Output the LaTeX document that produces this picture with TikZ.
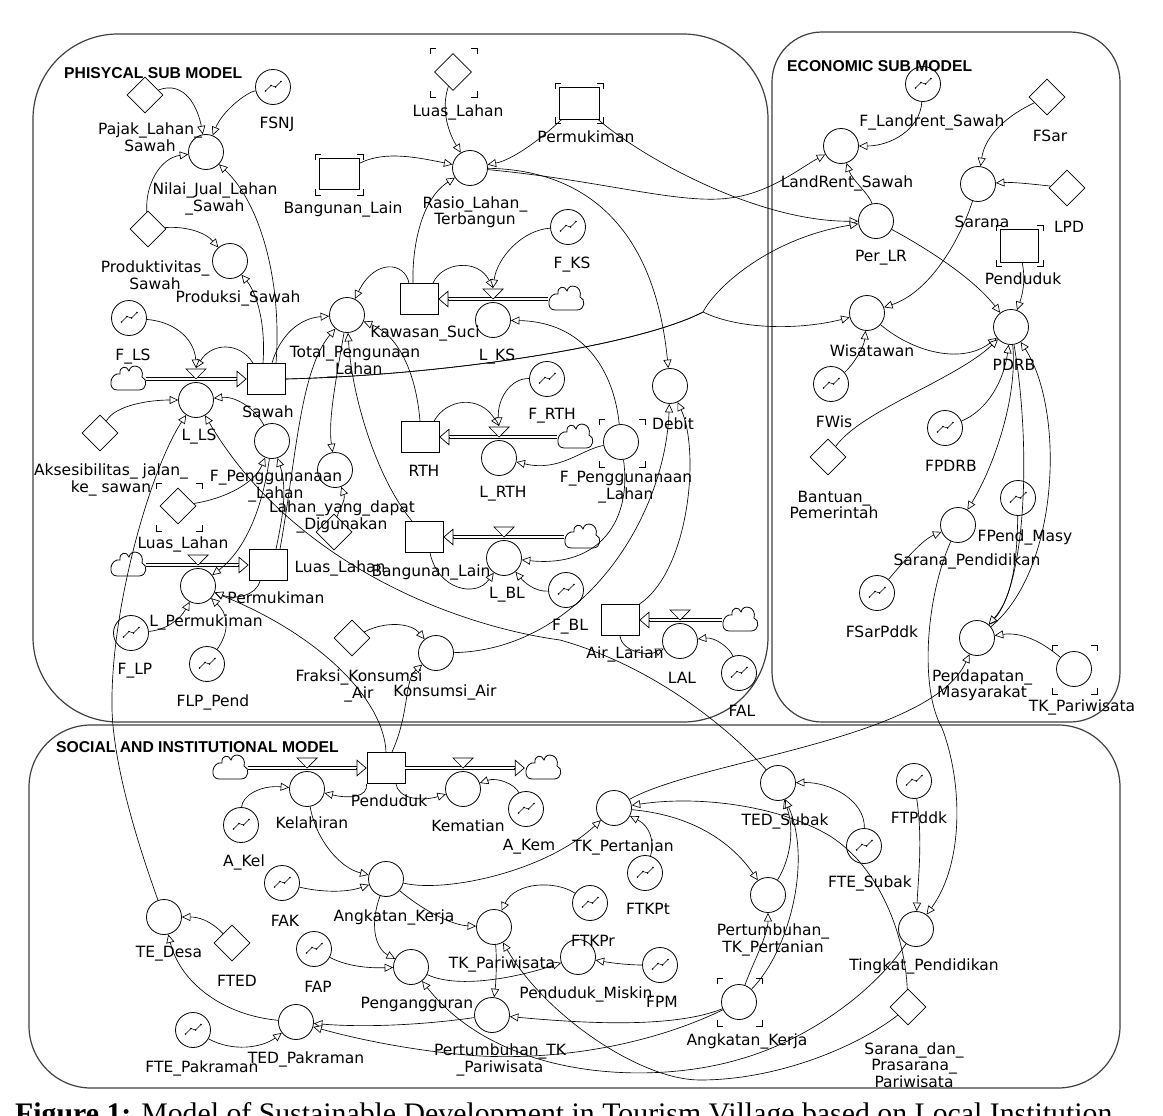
\documentclass[tikz,border=0pt]{standalone}
\usepackage{fontspec}
\usetikzlibrary{shapes.geometric,arrows.meta,calc}
\newfontfamily\labfont{DejaVu Sans}
\newfontfamily\titfont{Liberation Sans}
\newfontfamily\capfont{Liberation Serif}
\newcommand\ghostmark[4]{\draw[ghostline] (#1,{#2+6}) -- (#1,#2) -- ({#1+6},#2) ({#3-6},#2) -- (#3,#2) -- (#3,{#2+6}) (#3,{#4-6}) -- (#3,#4) -- ({#3-6},#4) ({#1+6},#4) -- (#1,#4) -- (#1,{#4-6});}
\newcommand\valvemark[2]{\draw[valveline] ({#1-10},{#2-10}) -- ({#1+10},{#2-10}) -- (#1,#2) -- cycle;}
\tikzset{
 every node/.style={inner sep=0pt},
 auxn/.style={circle, draw, line width=0.8pt, minimum size=35pt},
 graphc/.style={auxn, path picture={\draw[line width=0.55pt, shift={(path picture bounding box.center)}] (-7.5,4) -- (-2,-1.5) -- (2.5,0) -- (8,-5.5); \fill[shift={(path picture bounding box.center)}] (-7.5,4) circle (0.9pt) (-2,-1.5) circle (0.9pt) (2.5,0) circle (0.9pt) (8,-5.5) circle (0.9pt);}},
 cnst/.style={diamond, aspect=1, draw, line width=0.8pt, minimum size=36pt},
 stockn/.style={rectangle, draw, line width=0.8pt, minimum width=38pt, minimum height=31pt},
 cloudn/.style={minimum width=36pt, minimum height=26pt},
 lab/.style={font=\labfont\fontsize{15.5}{16.5}\selectfont, align=center},
 ttl/.style={font=\titfont\bfseries\fontsize{15.7}{18}\selectfont, anchor=west},
 lnk/.style={line width=0.65pt, -{Triangle[length=8.5pt, width=8pt, fill=white]}},
 pipen/.style={double, double distance=2.6pt, line width=0.7pt},
 pipetip/.style={line width=0.7pt, -{Triangle[length=10pt, width=17pt, fill=white]}},
 valveline/.style={line width=0.7pt, fill=white},
 ghostline/.style={line width=0.8pt},
 framen/.style={line width=1.2pt, black!75},
 pics/cloudpic/.style={code={\draw[line width=0.8pt, fill=white] (-11,11) -- (11,11) .. controls (19,11) and (20,0) .. (14,-2) .. controls (17,-13) and (3,-17) .. (1,-8) .. controls (-1,-14) and (-9,-13) .. (-8,-5) .. controls (-18,-7) and (-21,11) .. (-11,11) -- cycle;}},
}
\begin{document}
\begin{tikzpicture}[x=1pt,y=-1pt]
\useasboundingbox[fill=white] (0,0) rectangle (1163,1116);
% frames
\draw[framen, rounded corners=85pt] (33,34) rectangle (768,722);
\draw[framen, rounded corners=50pt] (772,32) rectangle (1120,722);
\draw[framen, rounded corners=62pt] (29,725) rectangle (1120,1088);
\node[ttl] (tt1) at (64,73) {PHISYCAL SUB MODEL};
\node[ttl] (tt2) at (787,66) {ECONOMIC SUB MODEL};
\node[ttl] (tt3) at (56,747) {SOCIAL AND INSTITUTIONAL MODEL};
% ---------- physical nodes
\node[cnst] (pajak) at (145,95) {};
\node[graphc] (fsnj) at (273,87) {};
\node[auxn] (nilai) at (206,152) {};
\node[cnst] (prodv) at (148,229) {};
\node[auxn] (produksi) at (230,261) {};
\node[stockn, minimum width=40pt] (blg) at (339,174) {};
\ghostmark{315}{154}{363}{195}
\node[cnst, minimum size=37pt] (llt) at (453,72) {};
\ghostmark{430}{48}{477}{97}
\node[stockn, minimum width=40pt, minimum height=32pt] (permg) at (579,103) {};
\ghostmark{555}{83}{603}{123}
\node[auxn] (rasio) at (470,168) {};
\node[graphc] (fks) at (568,227) {};
\node[cloudn] (cks) at (566,299) {}; \pic at (566,299) {cloudpic};
\node[stockn] (ks) at (419,299) {};
\node[auxn] (lks) at (493,320) {};
\node[auxn] (total) at (347,315) {};
\node[graphc] (fls) at (129,318) {};
\node[cloudn] (cls) at (128,379) {}; \pic at (128,379) {cloudpic};
\node[stockn] (sawah) at (266,379) {};
\node[auxn] (lls) at (196,400) {};
\node[cnst] (akses) at (100,433) {};
\node[auxn] (fpl) at (272,441) {};
\node[cnst] (llg) at (178,506) {};
\ghostmark{156}{483}{202}{531}
\node[auxn] (lahan) at (335,470) {};
\node[cnst] (lld) at (334,532) {};
\node[cloudn] (clp) at (128,565) {}; \pic at (128,565) {cloudpic};
\node[stockn] (perm) at (268,565) {};
\node[auxn] (lp) at (198,586) {};
\node[graphc] (flp) at (131,633) {};
\node[graphc] (flpp) at (207,664) {};
\node[cnst] (fraksi) at (352,638) {};
\node[auxn] (kons) at (436,653) {};
\node[stockn] (rth) at (420,437) {};
\node[graphc] (frth) at (547,379) {};
\node[cloudn] (crth) at (575,437) {}; \pic at (575,437) {cloudpic};
\node[auxn] (lrth) at (499,458) {};
\node[auxn] (fpg) at (621,442) {};
\ghostmark{599}{419}{645}{467}
\node[auxn] (debit) at (670,386) {};
\node[stockn] (bl) at (424,537) {};
\node[cloudn] (cbl) at (582,537) {}; \pic at (582,537) {cloudpic};
\node[auxn] (lbl) at (504,558) {};
\node[graphc] (fbl) at (566,590) {};
\node[stockn] (al) at (620,620) {};
\node[cloudn] (cal) at (740,620) {}; \pic at (740,620) {cloudpic};
\node[auxn] (lal) at (680,641) {};
\node[graphc] (fal) at (739,673) {};
% ---------- economic nodes
\node[graphc] (flr) at (923,84) {};
\node[cnst] (fsar) at (1047,97) {};
\node[auxn] (landrent) at (841,146) {};
\node[auxn] (sarana) at (978,184) {};
\node[cnst] (lpd) at (1067,188) {};
\node[auxn] (perlr) at (876,221) {};
\node[stockn, minimum height=33pt] (pendg) at (1019,246) {};
\ghostmark{996}{225}{1043}{266}
\node[auxn] (wis) at (867,313) {};
\node[auxn] (pdrb) at (1011,327) {};
\node[graphc] (fwis) at (831,384) {};
\node[cnst] (bantuan) at (828,457) {};
\node[graphc] (fpdrb) at (945,428) {};
\node[graphc] (fpendm) at (1018,498) {};
\node[auxn] (sarpend) at (958,525) {};
\node[graphc] (fsarp) at (877,593) {};
\node[auxn] (pendap) at (977,638) {};
\node[auxn] (tkpg) at (1074,669) {};
\ghostmark{1052}{645}{1097}{694}
% ---------- social nodes
\node[cloudn] (ckel) at (230,768) {}; \pic at (230,768) {cloudpic};
\node[auxn] (kel) at (307,789) {};
\node[stockn] (pend) at (386,768) {};
\node[auxn] (kem) at (463,789) {};
\node[cloudn] (ckem) at (543,768) {}; \pic at (543,768) {cloudpic};
\node[graphc] (akem) at (526,809) {};
\node[graphc] (akel) at (241,825) {};
\node[graphc] (fak) at (282,883) {};
\node[auxn] (ak) at (386,879) {};
\node[auxn] (tedesa) at (164,917) {};
\node[cnst] (fted) at (232,943) {};
\node[graphc] (fap) at (314,949) {};
\node[auxn] (peng) at (411,967) {};
\node[graphc] (ftep) at (193,1030) {};
\node[auxn] (tedpak) at (296,1022) {};
\node[auxn] (tkpt) at (614,808) {};
\node[graphc] (ftkpt) at (645,873) {};
\node[auxn] (tkpar) at (494,927) {};
\node[graphc] (ftkpr) at (590,903) {};
\node[auxn] (pmiskin) at (578,957) {};
\node[graphc] (fpm) at (660,965) {};
\node[auxn] (ptkpar) at (492,1015) {};
\node[auxn] (teds) at (778,783) {};
\node[graphc] (ftes) at (864,846) {};
\node[graphc] (ftpd) at (914,781) {};
\node[auxn] (ptkpt) at (768,895) {};
\node[auxn] (akg) at (739,1002) {};
\ghostmark{717}{978}{762}{1026}
\node[auxn] (tp) at (916,929) {};
\node[cnst] (sdp) at (908,1007) {};
% ---------- pipes
\draw[pipen] (cls) -- ([xshift=-10pt]sawah.west);
\draw[pipetip] ([xshift=-10.5pt]sawah.west) -- (sawah.west);
\draw[pipen] (clp) -- ([xshift=-10pt]perm.west);
\draw[pipetip] ([xshift=-10.5pt]perm.west) -- (perm.west);
\draw[pipen] (cks) -- ([xshift=10pt]ks.east);
\draw[pipetip] ([xshift=10.5pt]ks.east) -- (ks.east);
\draw[pipen] (crth) -- ([xshift=10pt]rth.east);
\draw[pipetip] ([xshift=10.5pt]rth.east) -- (rth.east);
\draw[pipen] (cbl) -- ([xshift=10pt]bl.east);
\draw[pipetip] ([xshift=10.5pt]bl.east) -- (bl.east);
\draw[pipen] (cal) -- ([xshift=10pt]al.east);
\draw[pipetip] ([xshift=10.5pt]al.east) -- (al.east);
\draw[pipen] (ckel) -- ([xshift=-10pt]pend.west);
\draw[pipetip] ([xshift=-10.5pt]pend.west) -- (pend.west);
\draw[pipen] (pend) -- ([xshift=-10pt]ckem.west);
\draw[pipetip] ([xshift=-10.5pt]ckem.west) -- (ckem.west);
\valvemark{196}{379}
\valvemark{198}{565}
\valvemark{493}{299}
\valvemark{499}{437}
\valvemark{504}{537}
\valvemark{680}{620}
\valvemark{307}{768}
\valvemark{463}{768}
\coordinate (vls) at (196,368);
\coordinate (vlks) at (493,288);
\coordinate (vlrth) at (499,426);
% ---------- physical links
\draw[lnk] (pajak) .. controls (185,80) and (198,108) .. (nilai);
\draw[lnk] (fsnj) .. controls (245,93) and (222,112) .. (nilai);
\draw[lnk] (prodv) .. controls (145,185) and (160,158) .. (nilai);
\draw[lnk] (prodv) .. controls (185,226) and (205,232) .. (produksi);
\draw[lnk] ([xshift=-3pt]sawah.north) .. controls (266,322) and (256,292) .. (produksi);
\draw[lnk] ([xshift=10pt]sawah.north) .. controls (282,285) and (262,205) .. (nilai);
\draw[lnk] ([xshift=6pt]sawah.north) .. controls (280,335) and (300,318) .. (total);
\draw[lnk] ([xshift=-13pt]sawah.north) .. controls (240,342) and (212,342) .. (vls);
\draw[lnk] (fls) .. controls (178,322) and (195,342) .. (vls);
\draw[lnk] (akses) .. controls (115,405) and (150,400) .. (lls);
\draw[lnk] (fpl) .. controls (255,408) and (235,396) .. (lls);
\draw[lnk] (tedesa) .. controls (140,850) and (114,770) .. (112,710) .. controls (110,610) and (150,470) .. (lls);
\draw[lnk] (teds) .. controls (735,735) and (660,668) .. (560,640) .. controls (450,625) and (290,560) .. (lls);
\draw[lnk] (llg) .. controls (228,498) and (255,482) .. (fpl);
\draw[lnk] (fpl) .. controls (262,510) and (245,550) .. (lp);
\draw[lnk] ([xshift=8pt]perm.north) .. controls (282,520) and (288,490) .. (fpl);
\draw[lnk] ([xshift=12pt]perm.north) .. controls (296,460) and (300,370) .. (total);
\draw[lnk] ([xshift=-10pt]ks.north) .. controls (405,262) and (375,258) .. (total);
\draw[lnk] (rth.north) .. controls (416,372) and (398,335) .. (total);
\draw[lnk] ([xshift=-12pt]bl.north) .. controls (378,480) and (352,400) .. (total);
\draw[lnk] (total) .. controls (336,380) and (328,420) .. (lahan);
\draw[lnk] (lld) .. controls (338,512) and (346,500) .. (lahan);
\draw[lnk] (blg) .. controls (385,150) and (420,158) .. (rasio);
\draw[lnk] (llt) .. controls (440,112) and (450,135) .. (rasio);
\draw[lnk] (permg) .. controls (540,140) and (512,160) .. (rasio);
\draw[lnk] ([xshift=-6pt]ks.north) .. controls (412,250) and (420,200) .. (rasio);
\draw[lnk] ([xshift=14pt]ks.north) .. controls (442,262) and (478,258) .. (vlks);
\draw[lnk] (fks) .. controls (522,230) and (497,258) .. (vlks);
\draw[lnk] (fpg) .. controls (614,372) and (585,322) .. (lks);
\draw[lnk] ([xshift=14pt]rth.north) .. controls (447,398) and (480,395) .. (vlrth);
\draw[lnk] (frth) .. controls (510,378) and (497,400) .. (vlrth);
\draw[lnk] (fpg) .. controls (580,450) and (560,472) .. (lrth);
\draw[lnk] (fpg) .. controls (632,520) and (600,568) .. (lbl);
\draw[lnk] ([xshift=6pt]bl.south) .. controls (438,590) and (476,598) .. (lbl);
\draw[lnk] (fbl) .. controls (535,592) and (524,582) .. (lbl);
\draw[lnk] (kons) .. controls (580,650) and (665,520) .. (debit);
\draw[lnk] (al.north east) .. controls (690,570) and (700,450) .. (debit);
\draw[lnk] (al.south) .. controls (622,652) and (648,656) .. (lal);
\draw[lnk] (fal) .. controls (730,648) and (715,637) .. (lal);
\draw[lnk] (fraksi) .. controls (388,620) and (412,624) .. (kons);
\draw[lnk] ([xshift=6pt]pend.north) .. controls (410,712) and (404,680) .. (kons);
\draw[lnk] (pend.north) .. controls (384,700) and (320,635) .. (lp);
\draw[lnk] ([xshift=-8pt]perm.south) .. controls (256,596) and (235,600) .. (lp);
\draw[lnk] (flp) .. controls (165,630) and (180,620) .. (lp);
\draw[lnk] (flpp) .. controls (232,628) and (226,612) .. (lp);
% ---------- economic links
\draw[lnk] (rasio) .. controls (600,180) and (680,205) .. (730,198) .. controls (770,193) and (800,168) .. (landrent);
\draw[lnk] (rasio) .. controls (590,170) and (655,232) .. (debit);
\draw[lnk] (permg) .. controls (645,160) and (760,222) .. (perlr);
\coordinate (jS) at (703,312);
\draw[lnk] (sawah.east) .. controls (450,375) and (640,345) .. (jS) .. controls (716,287) and (770,238) .. (perlr);
\draw[lnk] (sawah.east) .. controls (450,375) and (640,345) .. (jS) .. controls (740,330) and (800,330) .. (wis);
\draw[lnk] (flr) .. controls (920,130) and (890,146) .. (landrent);
\draw[lnk] (perlr) .. controls (870,195) and (852,180) .. (landrent);
\draw[lnk] (fsar) .. controls (1008,115) and (985,135) .. (sarana);
\draw[lnk] (lpd) .. controls (1032,184) and (1012,182) .. (sarana);
\draw[lnk] (sarana) .. controls (960,240) and (930,292) .. (wis);
\draw[lnk] (fwis) .. controls (852,366) and (864,348) .. (wis);
\draw[lnk] (perlr) .. controls (930,250) and (975,280) .. (pdrb);
\draw[lnk] (pendg) .. controls (1026,282) and (1022,296) .. (pdrb);
\draw[lnk] (wis) .. controls (910,350) and (960,366) .. (pdrb);
\draw[lnk] (bantuan) .. controls (862,410) and (955,380) .. (pdrb);
\draw[lnk] (fpdrb) .. controls (988,410) and (1004,380) .. (pdrb);
\draw[lnk] (pdrb) .. controls (1018,400) and (992,470) .. (sarpend);
\draw[lnk] (pdrb) .. controls (1032,450) and (1025,585) .. (pendap);
\draw[lnk] (pendap) .. controls (1060,570) and (1065,410) .. (pdrb);
\draw[lnk] (fpendm) .. controls (1017,570) and (1010,600) .. (pendap);
\draw[lnk] (fsarp) .. controls (905,560) and (922,540) .. (sarpend);
\draw[lnk] (tkpg) .. controls (1040,640) and (1020,632) .. (pendap);
\draw[lnk] (tkpt) .. controls (700,760) and (930,740) .. (pendap);
% ---------- social links
\draw[lnk] (pend.south west) .. controls (368,797) and (350,799) .. (kel);
\draw[lnk] ([xshift=10pt]pend.south) .. controls (398,798) and (420,802) .. (kem);
\draw[lnk] (akel) .. controls (242,796) and (260,785) .. (kel);
\draw[lnk] (akem) .. controls (515,784) and (497,777) .. (kem);
\draw[lnk] (kel) .. controls (316,840) and (340,868) .. (ak);
\draw[lnk] (fak) .. controls (320,892) and (345,893) .. (ak);
\draw[lnk] (ak) .. controls (368,930) and (378,950) .. (peng);
\draw[lnk] (fap) .. controls (350,968) and (375,968) .. (peng);
\draw[lnk] (ak) .. controls (445,893) and (545,872) .. (tkpt);
\draw[lnk] (ak) .. controls (420,908) and (450,925) .. (tkpar);
\draw[lnk] (ftkpr) .. controls (555,880) and (515,882) .. (tkpar);
\draw[lnk] (ftkpt) .. controls (655,842) and (650,826) .. (tkpt);
\draw[lnk] (peng) .. controls (460,990) and (522,976) .. (pmiskin);
\draw[lnk] (fpm) .. controls (628,965) and (612,963) .. (pmiskin);
\draw[lnk] (tkpar) .. controls (497,960) and (496,982) .. (ptkpar);
\draw[lnk] (ptkpar) .. controls (430,1024) and (370,1028) .. (tedpak);
\draw[lnk] (akg) .. controls (670,1030) and (570,1022) .. (ptkpar);
\draw[lnk] (akg) .. controls (650,1045) and (560,1060) .. (480,1056) .. controls (420,1052) and (360,1040) .. (tedpak);
\draw[lnk] (sdp) .. controls (860,1045) and (780,1080) .. (700,1080) .. controls (640,1080) and (545,1015) .. (tkpar);
\draw[lnk] (tp) .. controls (875,990) and (810,1040) .. (737,1060) .. controls (650,1085) and (500,1080) .. (peng);
\draw[lnk] (tkpt) .. controls (690,815) and (730,840) .. (ptkpt);
\draw[lnk] (sdp) .. controls (905,935) and (880,868) .. (830,836) .. controls (780,806) and (700,795) .. (tkpt);
\draw[lnk] (ptkpt) .. controls (790,860) and (795,830) .. (teds);
\draw[lnk] (akg) .. controls (790,950) and (812,860) .. (teds);
\draw[lnk] (akg) .. controls (752,965) and (768,935) .. (ptkpt);
\draw[lnk] (ftes) .. controls (865,800) and (830,782) .. (teds);
\draw[lnk] (ftpd) .. controls (923,840) and (918,880) .. (tp);
\draw[lnk] (sarpend) .. controls (925,600) and (920,690) .. (942,728) .. controls (962,780) and (965,862) .. (tp);
\draw[lnk] (fted) .. controls (210,920) and (198,917) .. (tedesa);
\draw[lnk] (tedpak) .. controls (222,1015) and (180,982) .. (tedesa);
\draw[lnk] (ftep) .. controls (232,1052) and (262,1048) .. (tedpak);
% ---------- labels physical
\node[lab] (t01) at (150,137) {Pajak\_Lahan\_\\Sawah};
\node[lab] (t02) at (277,124) {FSNJ};
\node[lab] (t03) at (215,199) {Nilai\_Jual\_Lahan\\\_Sawah};
\node[lab] (t04) at (155,275) {Produktivitas\_\\Sawah};
\node[lab] (t05) at (238,298) {Produksi\_Sawah};
\node[lab] (t06) at (343,209) {Bangunan\_Lain};
\node[lab] (t07) at (458,112) {Luas\_Lahan};
\node[lab] (t08) at (586,137) {Permukiman};
\node[lab] (t09) at (475,212) {Rasio\_Lahan\_\\Terbangun};
\node[lab] (t10) at (572,265) {F\_KS};
\node[lab] (t11) at (425,333) {Kawasan\_Suci};
\node[lab] (t12) at (497,357) {L\_KS};
\node[lab] (t13) at (355,362) {Total\_Pengunaan\\\_Lahan};
\node[lab] (t14) at (133,357) {F\_LS};
\node[lab] (t15) at (268,412) {Sawah};
\node[lab] (t16) at (199,437) {L\_LS};
\node[lab] (t17) at (111,480) {Aksesibilitas\_ jalan\_\\ke\_ sawan};
\node[lab] (t18) at (276,486) {F\_Penggunanaan\\\_Lahan};
\node[lab] (t19) at (183,544) {Luas\_Lahan};
\node[lab] (t20) at (342,517) {Lahan\_yang\_dapat\\\_Digunakan};
\node[lab] (t21) at (340,568) {Luas\_Lahan};
\node[lab] (t22) at (276,598) {Permukiman};
\node[lab] (t23) at (206,622) {L\_Permukiman};
\node[lab] (t24) at (135,671) {F\_LP};
\node[lab] (t25) at (213,702) {FLP\_Pend};
\node[lab] (t26) at (359,686) {Fraksi\_Konsumsi\\\_Air};
\node[lab] (t27) at (445,692) {Konsumsi\_Air};
\node[lab] (t28) at (424,471) {RTH};
\node[lab] (t29) at (552,416) {F\_RTH};
\node[lab] (t30) at (503,494) {L\_RTH};
\node[lab] (t31) at (626,487) {F\_Penggunanaan\\\_Lahan};
\node[lab] (t32) at (673,424) {Debit};
\node[lab] (t33) at (431,572) {Bangunan\_Lain};
\node[lab] (t34) at (507,595) {L\_BL};
\node[lab] (t35) at (570,627) {F\_BL};
\node[lab] (t36) at (625,654) {Air\_Larian};
\node[lab] (t37) at (682,678) {LAL};
\node[lab] (t38) at (742,711) {FAL};
% ---------- labels economic
\node[lab] (t40) at (932,122) {F\_Landrent\_Sawah};
\node[lab] (t41) at (1050,136) {FSar};
\node[lab] (t42) at (847,183) {LandRent\_Sawah};
\node[lab] (t43) at (982,222) {Sarana};
\node[lab] (t44) at (1069,227) {LPD};
\node[lab] (t45) at (881,258) {Per\_LR};
\node[lab] (t46) at (1023,279) {Penduduk};
\node[lab] (t47) at (872,351) {Wisatawan};
\node[lab] (t48) at (1014,365) {PDRB};
\node[lab] (t49) at (834,422) {FWis};
\node[lab] (t50) at (834,505) {Bantuan\_\\Pemerintah};
\node[lab] (t51) at (951,466) {FPDRB};
\node[lab] (t52) at (1025,537) {FPend\_Masy};
\node[lab] (t53) at (967,561) {Sarana\_Pendidikan};
\node[lab] (t54) at (882,632) {FSarPddk};
\node[lab] (t55) at (982,685) {Pendapatan\_\\Masyarakat};
\node[lab] (t56) at (1082,707) {TK\_Pariwisata};
% ---------- labels social
\node[lab] (t60) at (312,823) {Kelahiran};
\node[lab] (t61) at (389,801) {Penduduk};
\node[lab] (t62) at (468,826) {Kematian};
\node[lab] (t63) at (529,847) {A\_Kem};
\node[lab] (t64) at (244,862) {A\_Kel};
\node[lab] (t65) at (285,921) {FAK};
\node[lab] (t66) at (394,917) {Angkatan\_Kerja};
\node[lab] (t67) at (169,954) {TE\_Desa};
\node[lab] (t68) at (237,981) {FTED};
\node[lab] (t69) at (318,987) {FAP};
\node[lab] (t70) at (417,1004) {Pengangguran};
\node[lab] (t71) at (202,1068) {FTE\_Pakraman};
\node[lab] (t72) at (306,1059) {TED\_Pakraman};
\node[lab] (t73) at (623,847) {TK\_Pertanian};
\node[lab] (t74) at (648,909) {FTKPt};
\node[lab] (t75) at (502,964) {TK\_Pariwisata};
\node[lab] (t76) at (593,941) {FTKPr};
\node[lab] (t77) at (586,994) {Penduduk\_Miskin};
\node[lab] (t78) at (662,1002) {FPM};
\node[lab] (t79) at (500,1060) {Pertumbuhan\_TK\\\_Pariwisata};
\node[lab] (t80) at (785,821) {TED\_Subak};
\node[lab] (t81) at (870,883) {FTE\_Subak};
\node[lab] (t82) at (919,818) {FTPddk};
\node[lab] (t83) at (773,940) {Pertumbuhan\_\\TK\_Pertanian};
\node[lab] (t84) at (747,1041) {Angkatan\_Kerja};
\node[lab] (t85) at (924,966) {Tingkat\_Pendidikan};
\node[lab] (t86) at (914,1065) {Sarana\_dan\_\\Prasarana\_\\Pariwisata};
% caption
\node[anchor=base west] (cap) at (15,1123) {\capfont\fontsize{29.8}{32}\selectfont\textbf{Figure 1:} Model of Sustainable Development in Tourism Village based on Local Institution};
\end{tikzpicture}
\end{document}
